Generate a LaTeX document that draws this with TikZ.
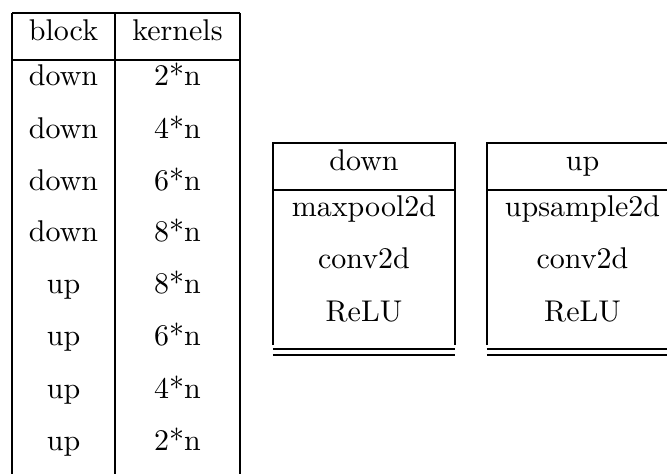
\documentclass[tikz,border=0pt]{standalone}
\usepackage{tikz}

\begin{document}
\begin{tikzpicture}[
    cell/.style={anchor=base, inner sep=0pt},
    rule/.style={line width=0.4pt}]
  \clip (0,0) rectangle (7.814,5.553);

  % ── Block / kernels table ─────────────────────────────────────────
  \coordinate (L1) at (0.141, 5.401);
  \coordinate (M1) at (1.347, 5.401);
  \coordinate (R1) at (2.812, 5.401);
  \coordinate (L2) at (0.141, 0    );
  \coordinate (M2) at (1.347, 0    );
  \coordinate (R2) at (2.812, 0    );

  \draw[rule] (L1) -- (R1);
  \draw[rule] (L1) -- (L2);
  \draw[rule] (M1) -- (M2);
  \draw[rule] (R1) -- (R2);
  \draw[rule] (0.141, 4.850) -- (2.812, 4.850);

  \node[cell] (blockH)  at (0.744, 5.084) {block};
  \node[cell] (kernH)   at (2.079, 5.084) {kernels};

  \node[cell] (blockA)  at (0.744, 4.546) {down};
  \node[cell] (kernA)   at (2.079, 4.546) {2*n};
  \node[cell] (blockB)  at (0.744, 3.936) {down};
  \node[cell] (kernB)   at (2.079, 3.936) {4*n};
  \node[cell] (blockC)  at (0.744, 3.327) {down};
  \node[cell] (kernC)   at (2.079, 3.327) {6*n};
  \node[cell] (blockD)  at (0.744, 2.718) {down};
  \node[cell] (kernD)   at (2.079, 2.718) {8*n};
  \node[cell] (blockE)  at (0.744, 2.109) {up};
  \node[cell] (kernE)   at (2.079, 2.109) {8*n};
  \node[cell] (blockF)  at (0.744, 1.500) {up};
  \node[cell] (kernF)   at (2.079, 1.500) {6*n};
  \node[cell] (blockG)  at (0.744, 0.890) {up};
  \node[cell] (kernG)   at (2.079, 0.890) {4*n};
  \node[cell] (blockH2) at (0.744, 0.281) {up};
  \node[cell] (kernH2)  at (2.079, 0.281) {2*n};

  % ── Down block ────────────────────────────────────────────────────
  \begin{scope}[xshift=3.198cm]
    \draw[rule] (0, 1.511) -- (0, 3.878) -- (2.132, 3.878) -- (2.132, 1.511);
    \draw[rule] (0, 3.327) -- (2.132, 3.327);
    \draw[rule] (0, 1.464) -- (2.132, 1.464);
    \draw[rule] (0, 1.394) -- (2.132, 1.394);

    \node[cell] (downH)    at (1.066, 3.561) {down};
    \node[cell] (downPool) at (1.066, 3.011) {maxpool2d};
    \node[cell] (downConv) at (1.066, 2.402) {conv2d};
    \node[cell] (downAct)  at (1.066, 1.792) {ReLU};
  \end{scope}

  % ── Up block ──────────────────────────────────────────────────────
  \begin{scope}[xshift=5.705cm]
    \draw[rule] (0, 1.511) -- (0, 3.878) -- (2.238, 3.878) -- (2.238, 1.511);
    \draw[rule] (0, 3.327) -- (2.238, 3.327);
    \draw[rule] (0, 1.464) -- (2.238, 1.464);
    \draw[rule] (0, 1.394) -- (2.238, 1.394);

    \node[cell] (upH)    at (1.119, 3.561) {up};
    \node[cell] (upSamp) at (1.119, 3.011) {upsample2d};
    \node[cell] (upConv) at (1.119, 2.402) {conv2d};
    \node[cell] (upAct)  at (1.119, 1.792) {ReLU};
  \end{scope}
\end{tikzpicture}
\end{document}
